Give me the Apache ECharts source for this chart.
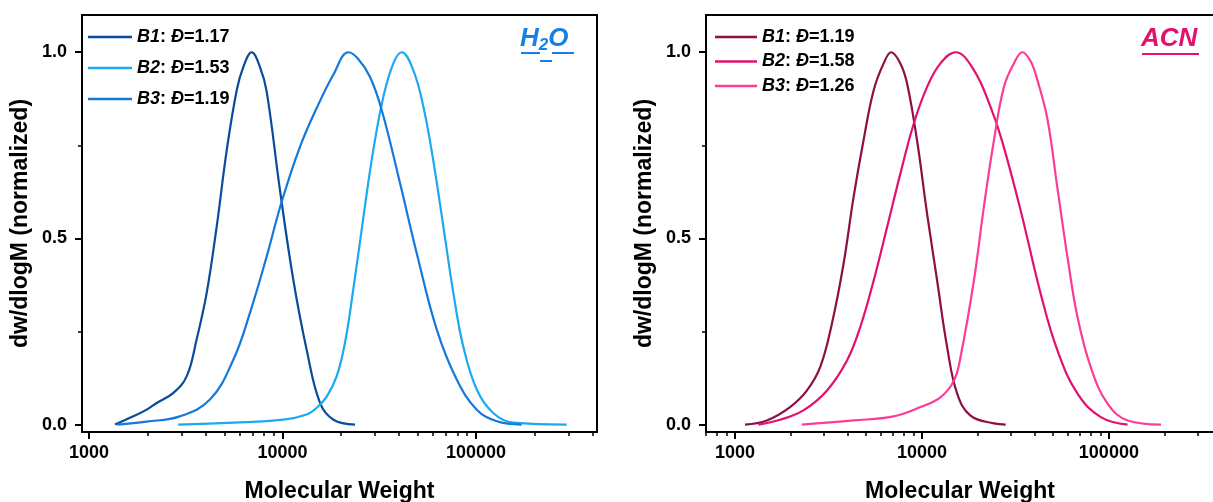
<!DOCTYPE html>
<html>
<head>
<meta charset="utf-8">
<script src="https://cdn.jsdelivr.net/npm/echarts@6/dist/echarts.min.js"></script>
<style>html,body{margin:0;padding:0;background:#fff;}#c{width:1213px;height:502px;}</style>
</head>
<body>
<div id="c"></div>
<script>
// ---------- data ----------
const seriesLabels = ['B1', 'B2', 'B3'];
const h2oDispersity = [1.17, 1.53, 1.19];
const acnDispersity = [1.19, 1.58, 1.26];

const h2oB1M = [1363, 1693, 1987, 2240, 2730, 3200, 3596, 4055, 4570, 5150, 5800, 6270, 6930, 7650, 8280, 9700, 11370, 13330, 15630, 18330, 23700];
const h2oB1Y = [0, 0.022, 0.04, 0.058, 0.085, 0.13, 0.228, 0.353, 0.532, 0.737, 0.898, 0.96, 1.0, 0.96, 0.895, 0.63, 0.389, 0.201, 0.058, 0.013, 0];

const h2oB2M = [2890, 5570, 10090, 13330, 15030, 16920, 19060, 21040, 23200, 26200, 29450, 33200, 37400, 41300, 47400, 53500, 60100, 67800, 76400, 85900, 100900, 122700, 156000, 294000];
const h2oB2Y = [0, 0.005, 0.013, 0.027, 0.045, 0.075, 0.13, 0.22, 0.362, 0.558, 0.737, 0.88, 0.97, 1.0, 0.952, 0.853, 0.71, 0.532, 0.353, 0.21, 0.094, 0.031, 0.005, 0];

const h2oB3M = [1400, 1987, 2950, 4217, 5570, 6790, 8280, 9910, 12310, 15020, 18330, 21900, 24500, 28300, 32560, 40500, 49400, 62700, 79500, 100900, 128000, 172000];
const h2oB3Y = [0, 0.008, 0.022, 0.067, 0.174, 0.30, 0.451, 0.599, 0.746, 0.85, 0.94, 1.0, 0.983, 0.934, 0.845, 0.648, 0.46, 0.255, 0.121, 0.040, 0.009, 0];

const acnB1M = [1132, 1480, 1972, 2423, 2856, 3300, 3810, 4310, 4870, 5520, 6240, 6850, 7670, 8330, 9420, 10660, 12060, 13640, 15440, 18200, 24270, 28050];
const acnB1Y = [0, 0.011, 0.047, 0.091, 0.154, 0.271, 0.432, 0.611, 0.763, 0.898, 0.97, 1.0, 0.97, 0.916, 0.763, 0.566, 0.387, 0.208, 0.083, 0.024, 0.003, 0];

const acnB2M = [1334, 1742, 2322, 3100, 3975, 4680, 5520, 6510, 7670, 9040, 10660, 12560, 15140, 18970, 23280, 26900, 33740, 43190, 53070, 67990, 90600, 125900];
const acnB2Y = [0, 0.013, 0.038, 0.091, 0.172, 0.262, 0.387, 0.53, 0.674, 0.808, 0.907, 0.97, 1.0, 0.952, 0.853, 0.76, 0.575, 0.351, 0.199, 0.083, 0.02, 0];

const acnB3M = [2280, 4310, 7060, 9820, 12560, 14830, 16080, 18970, 21440, 24270, 27460, 31040, 34450, 38200, 41470, 46930, 53070, 60050, 67990, 80000, 98400, 126000, 190000];
const acnB3Y = [0, 0.011, 0.022, 0.047, 0.073, 0.118, 0.181, 0.387, 0.584, 0.763, 0.907, 0.97, 1.0, 0.975, 0.925, 0.82, 0.635, 0.45, 0.288, 0.154, 0.056, 0.011, 0];

const xLabelValues = [1000, 10000, 100000];
const xMinorLeft = [2000, 3000, 4000, 5000, 6000, 7000, 8000, 9000, 20000, 30000, 40000, 50000, 60000, 70000, 80000, 90000, 200000, 300000, 400000];
const xMinorRight = [700, 800, 900, 2000, 3000, 4000, 5000, 6000, 7000, 8000, 9000, 20000, 30000, 40000, 50000, 60000, 70000, 80000, 90000, 200000, 300000];
const yLabelValues = [0, 0.5, 1.0];
const yMinorValues = [0.25, 0.75];

// ---------- helpers ----------
const FONT = '"Liberation Sans", Arial, sans-serif';
const h2oColors = ['#0b4c9a', '#1ba9f2', '#1478dc'];
const acnColors = ['#8e0e46', '#e3106f', '#fb3d98'];
const pairs = (xs, ys) => xs.map((x, i) => [x, ys[i]]);

function xAxes(grid, min, max, minor) {
  return [
    {
      type: 'log', logBase: 10, gridIndex: grid, position: 'bottom', min: min, max: max,
      axisLine: { show: true, onZero: false, lineStyle: { color: '#000', width: 2 } },
      axisTick: { show: true, customValues: xLabelValues, length: 7, lineStyle: { color: '#000', width: 2 } },
      axisLabel: { customValues: xLabelValues, formatter: v => String(Math.round(v)), fontSize: 18, fontWeight: 'bold', color: '#000', margin: 12, fontFamily: FONT },
      splitLine: { show: false }, minorTick: { show: false },
      name: 'Molecular Weight', nameLocation: 'middle', nameGap: 48,
      nameTextStyle: { fontSize: 23, fontWeight: 'bold', color: '#000', fontFamily: FONT }
    },
    {
      type: 'log', logBase: 10, gridIndex: grid, position: 'bottom', min: min, max: max,
      axisLine: { show: false, onZero: false },
      axisTick: { show: true, customValues: minor, length: 4, lineStyle: { color: '#000', width: 1.5 } },
      axisLabel: { show: false }, splitLine: { show: false }, minorTick: { show: false }
    }
  ];
}
function yAxes(grid) {
  return [
    {
      type: 'value', gridIndex: grid, position: 'left', min: -0.02, max: 1.1,
      axisLine: { show: true, onZero: false, lineStyle: { color: '#000', width: 2 } },
      axisTick: { show: true, customValues: yLabelValues, length: 7, lineStyle: { color: '#000', width: 2 } },
      axisLabel: { customValues: yLabelValues, formatter: v => v.toFixed(1), fontSize: 18, fontWeight: 'bold', color: '#000', margin: 15, fontFamily: FONT },
      splitLine: { show: false },
      name: 'dw/dlogM (normalized)', nameLocation: 'middle', nameGap: 50,
      nameTextStyle: { fontSize: 23, fontWeight: 'bold', color: '#000', fontFamily: FONT }
    },
    {
      type: 'value', gridIndex: grid, position: 'left', min: -0.02, max: 1.1,
      axisLine: { show: false, onZero: false },
      axisTick: { show: true, customValues: yMinorValues, length: 4, lineStyle: { color: '#000', width: 1.5 } },
      axisLabel: { show: false }, splitLine: { show: false }
    }
  ];
}
function mkSeries(prefix, label, data, color, xi, yi) {
  return {
    name: prefix + label, type: 'line', xAxisIndex: xi, yAxisIndex: yi,
    data: data, smooth: 0.4, symbol: 'none', showSymbol: false,
    lineStyle: { color: color, width: 2.2 }, itemStyle: { color: color },
    emphasis: { disabled: true }
  };
}
function legendFmt(disp) {
  return function (name) {
    const lbl = name.split('|')[1];
    const i = seriesLabels.indexOf(lbl);
    return '{i|' + lbl + '}{b|: }{i|Đ}{b|=' + disp[i].toFixed(2) + '}';
  };
}
const legendRich = {
  i: { fontSize: 18, fontWeight: 'bold', fontStyle: 'italic', color: '#000', fontFamily: FONT, lineHeight: 20 },
  b: { fontSize: 18, fontWeight: 'bold', color: '#000', fontFamily: FONT, lineHeight: 20 }
};

const h2oData = [pairs(h2oB1M, h2oB1Y), pairs(h2oB2M, h2oB2Y), pairs(h2oB3M, h2oB3Y)];
const acnData = [pairs(acnB1M, acnB1Y), pairs(acnB2M, acnB2Y), pairs(acnB3M, acnB3Y)];

const series = [];
seriesLabels.forEach((l, i) => series.push(mkSeries('H2O|', l, h2oData[i], h2oColors[i], 0, 0)));
seriesLabels.forEach((l, i) => series.push(mkSeries('ACN|', l, acnData[i], acnColors[i], 2, 2)));

const chart = echarts.init(document.getElementById('c'), null, { renderer: 'canvas' });
chart.setOption({
  animation: false,
  backgroundColor: '#fff',
  grid: [
    { left: 82, top: 15, width: 515, height: 417, show: true, borderColor: '#000', borderWidth: 2, backgroundColor: 'transparent', containLabel: false, outerBoundsMode: 'none' },
    { left: 706, top: 15, width: 508, height: 417, show: true, borderColor: '#000', borderWidth: 2, backgroundColor: 'transparent', containLabel: false, outerBoundsMode: 'none' }
  ],
  xAxis: [].concat(xAxes(0, 920, 422000, xMinorLeft), xAxes(1, 700, 365000, xMinorRight)),
  yAxis: [].concat(yAxes(0), yAxes(1)),
  legend: [
    {
      data: seriesLabels.map(l => 'H2O|' + l), orient: 'vertical', left: 88, top: 27, padding: 0,
      icon: 'rect', itemWidth: 44, itemHeight: 2.5, itemGap: 11, selectedMode: false,
      formatter: legendFmt(h2oDispersity),
      textStyle: { rich: legendRich, lineHeight: 20 }
    },
    {
      data: seriesLabels.map(l => 'ACN|' + l), orient: 'vertical', left: 715, top: 27, padding: 0,
      icon: 'rect', itemWidth: 42, itemHeight: 2.5, itemGap: 4.5, selectedMode: false,
      formatter: legendFmt(acnDispersity),
      textStyle: { rich: legendRich, lineHeight: 20 }
    }
  ],
  graphic: [
    { type: 'text', left: 520, top: 26, style: { text: '{a|H}{s|2}{a|O}', rich: {
        a: { fontSize: 26, fontWeight: 'bold', fontStyle: 'italic', fill: '#1680e6', fontFamily: FONT },
        s: { fontSize: 17, fontWeight: 'bold', fontStyle: 'italic', fill: '#1680e6', fontFamily: FONT, padding: [13, 0, 0, 0] }
      } } },
    { type: 'rect', shape: { x: 521, y: 52, width: 19, height: 2 }, style: { fill: '#1680e6' } },
    { type: 'rect', shape: { x: 540, y: 60, width: 12, height: 2 }, style: { fill: '#1680e6' } },
    { type: 'rect', shape: { x: 552, y: 52, width: 22, height: 2 }, style: { fill: '#1680e6' } },
    { type: 'text', left: 1141, top: 26, style: { text: 'ACN', fontSize: 26, fontWeight: 'bold', fontStyle: 'italic', fill: '#e5106e', fontFamily: FONT } },
    { type: 'rect', shape: { x: 1142, y: 53, width: 57, height: 2 }, style: { fill: '#e5106e' } }
  ],
  series: series
});
</script>
</body>
</html>
